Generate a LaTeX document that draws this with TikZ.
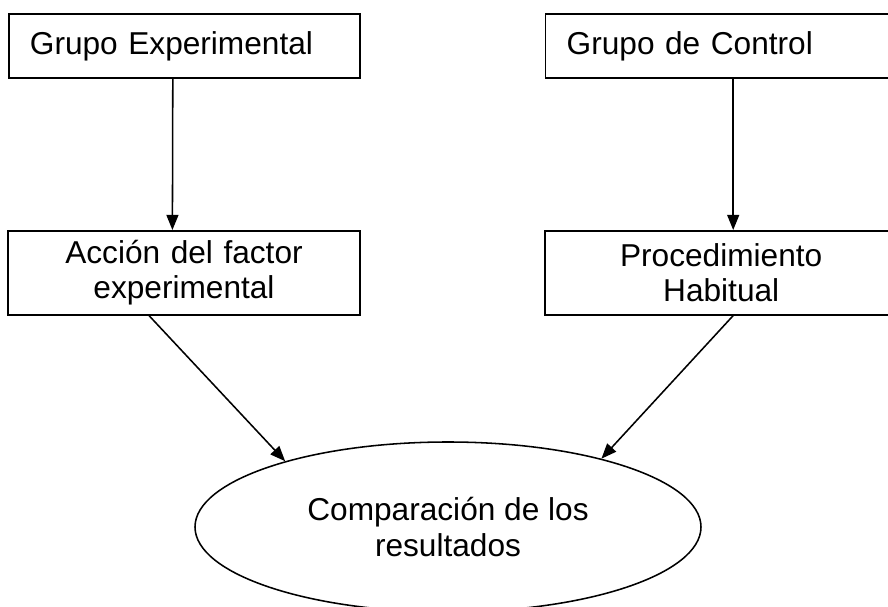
\documentclass[tikz,border=0pt]{standalone}
\usepackage{fontspec}
\setmainfont{Liberation Sans}
\usetikzlibrary{shapes.geometric,arrows.meta}
\tikzset{
	grupo/.style={draw, line width=1.1pt, minimum height=1.6cm, text width=7.725cm, inner xsep=0.525cm, inner ysep=0pt, align=left},
	paso/.style={draw, line width=1.1pt, minimum height=2.1cm, text width=7.75cm, inner xsep=0.525cm, inner ysep=0pt, align=center},
	comparacion/.style={draw, ellipse, line width=1.1pt, minimum width=12.65cm, minimum height=4.25cm, inner sep=0pt, align=center},
	flecha/.style={-{Triangle[length=0.38cm,width=0.3cm]}, line width=1.1pt}
}

\begin{document}
\begin{tikzpicture}[font=\fontsize{22.5}{25}\selectfont]
	%%%%% START %%%%%
	\useasboundingbox (0, 0) rectangle (22.2, 15.15);

	\node[grupo] (exp) at (4.61, 14) {Grupo Experimental};
	\node[grupo] (ctrl) at (18.03, 14) {Grupo de Control};

	\node[paso] (factor) at (4.6, 8.33) {Acción del factor\\experimental};
	\node[paso] (habitual) at (18.03, 8.33) {Procedimiento\\Habitual};

	\node[comparacion] (comp) at (11.2, 1.975) {Comparación de los\\resultados};

	\draw[flecha] ([xshift=-0.29cm]exp.south) -- ([xshift=-0.29cm]factor.north);
	\draw[flecha] ([xshift=0.3cm]ctrl.south) -- ([xshift=0.3cm]habitual.north);

	\draw[flecha] ([xshift=-0.875cm]factor.south) -- (comp.158.6);
	\draw[flecha] ([xshift=0.3cm]habitual.south) -- (comp.24.2);
	%%%%% END %%%%%
\end{tikzpicture}
\end{document}
